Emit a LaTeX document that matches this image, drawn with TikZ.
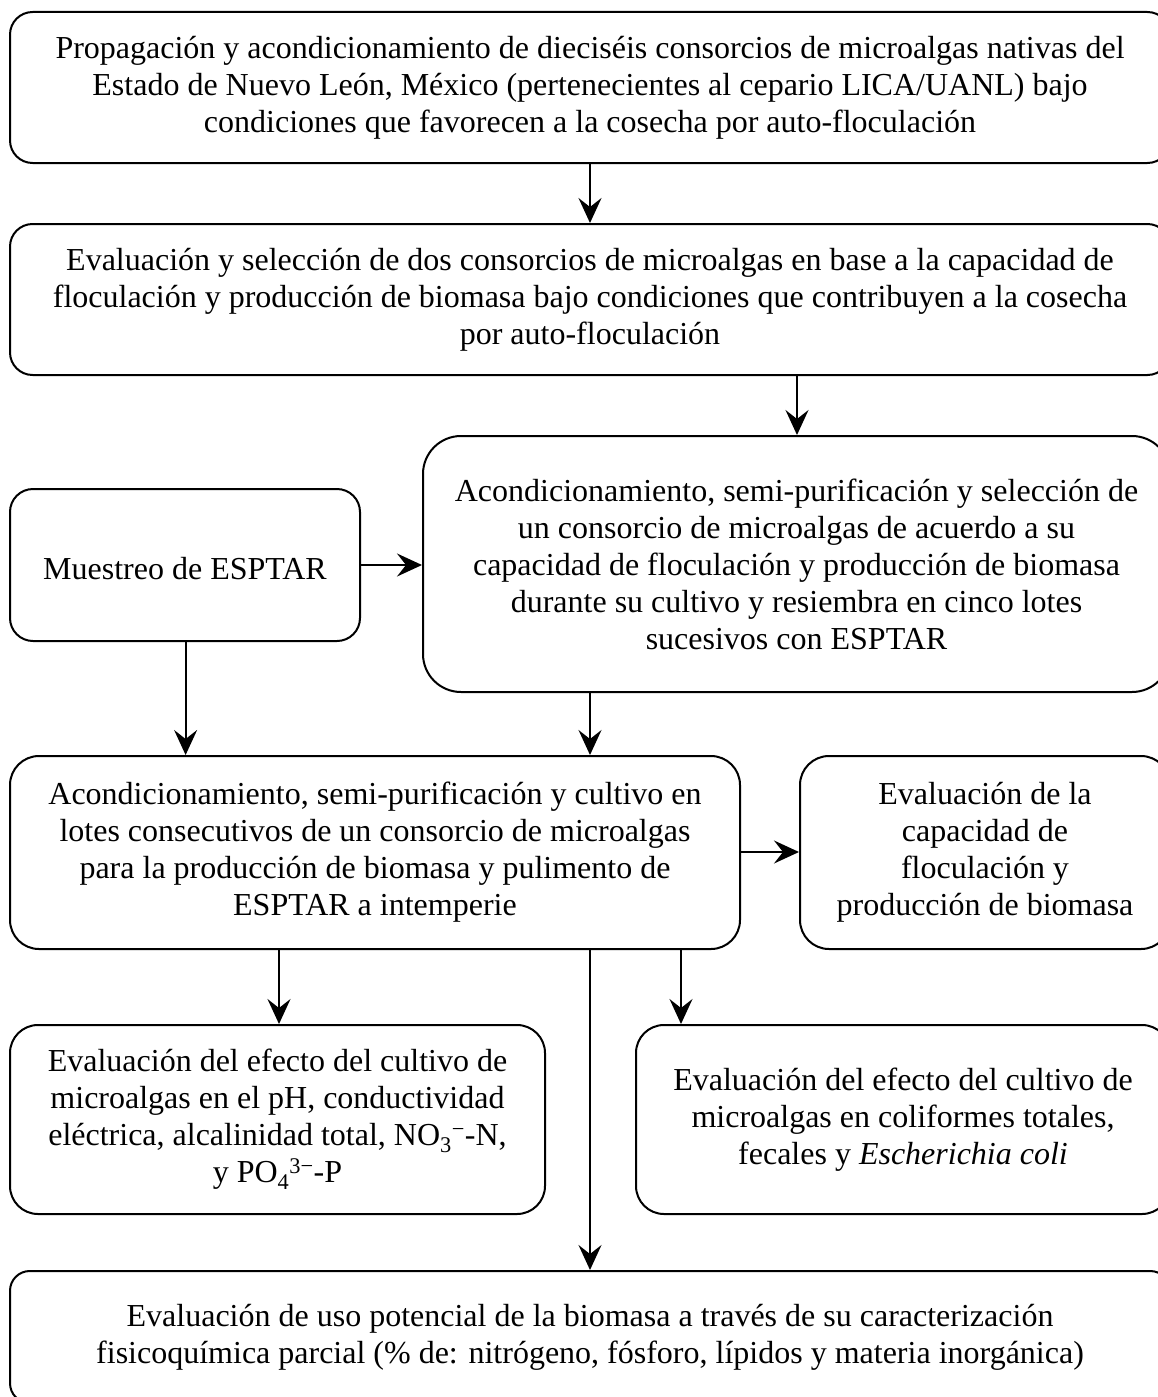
\documentclass[tikz,border=0pt]{standalone}
\usepackage{fontspec}
\setmainfont{Liberation Serif}
\usetikzlibrary{arrows.meta}
\begin{document}
\begin{tikzpicture}[x=1pt,y=-1pt,
  box/.style={draw=black,line width=2pt,rectangle,inner sep=0pt,align=center,
    font=\fontsize{32}{37}\selectfont,execute at begin node={\rule{0pt}{30pt}}},
  arr/.style={line width=2pt,-{Stealth[length=25pt,width=23pt,inset=9pt]}}]
\useasboundingbox[fill=white] (0,0) rectangle (1158,1397);
% boxes: centre, width, height, corner radius = 15% of min side
\node[box,minimum width=1160pt,minimum height=151pt,rounded corners=22.6pt] (B1) at (590,87.5)
 {Propagación y acondicionamiento de dieciséis consorcios de microalgas nativas del\\
  Estado de Nuevo León, México (pertenecientes al cepario LICA/UANL) bajo\\
  condiciones que favorecen a la cosecha por auto-floculación};
\node[box,minimum width=1160pt,minimum height=151pt,rounded corners=22.6pt] (B2) at (590,299.5)
 {Evaluación y selección de dos consorcios de microalgas en base a la capacidad de\\
  floculación y producción de biomasa bajo condiciones que contribuyen a la cosecha\\
  por auto-floculación};
\node[box,minimum width=747pt,minimum height=256pt,rounded corners=38pt] (B3) at (796.5,564)
 {Acondicionamiento, semi-purificación y selección de\\
  un consorcio de microalgas de acuerdo a su\\
  capacidad de floculación y producción de biomasa\\
  durante su cultivo y resiembra en cinco lotes\\
  sucesivos con ESPTAR};
\node[box,minimum width=350pt,minimum height=152pt,rounded corners=23pt] (B0) at (185,565)
 {Muestreo de ESPTAR};
\node[box,minimum width=730pt,minimum height=193pt,rounded corners=29pt] (B4) at (375,852.5)
 {Acondicionamiento, semi-purificación y cultivo en\\
  lotes consecutivos de un consorcio de microalgas\\
  para la producción de biomasa y pulimento de\\
  ESPTAR a intemperie};
\node[box,minimum width=370pt,minimum height=193pt,rounded corners=29pt] (BE) at (985,852.5)
 {Evaluación de la\\capacidad de\\floculación y\\producción de biomasa};
\node[box,minimum width=535pt,minimum height=189pt,rounded corners=28pt] (B5) at (277.5,1119.5)
 {Evaluación del efecto del cultivo de\\
  microalgas en el pH, conductividad\\
  eléctrica, alcalinidad total, NO\textsubscript{3}\textsuperscript{−}-N,\\
  y PO\textsubscript{4}\textsuperscript{3−}-P};
\node[box,minimum width=534pt,minimum height=189pt,rounded corners=28pt] (B6) at (903,1119.5)
 {Evaluación del efecto del cultivo de\\
  microalgas en coliformes totales,\\
  fecales y \textit{Escherichia coli}};
\node[box,minimum width=1160pt,minimum height=132pt,rounded corners=19.8pt] (B7) at (590,1337)
 {Evaluación de uso potencial de la biomasa a través de su caracterización\\
  fisicoquímica parcial (\% de: nitrógeno, fósforo, lípidos y materia inorgánica)};
% connector guide coordinates
\coordinate (xa) at (590,0);
\coordinate (xb) at (797,0);
\coordinate (xc) at (185.6,0);
\coordinate (xd) at (279,0);
\coordinate (xe) at (681,0);
\coordinate (ya) at (0,565);
\coordinate (yb) at (0,852);
\draw[arr] (B1.south -| xa) -- (B2.north -| xa);
\draw[arr] (B2.south -| xb) -- (B3.north -| xb);
\draw[arr] (B0.east |- ya) -- (B3.west |- ya);
\draw[arr] (B0.south -| xc) -- (B4.north -| xc);
\draw[arr] (B3.south -| xa) -- (B4.north -| xa);
\draw[arr] (B4.east |- yb) -- (BE.west |- yb);
\draw[arr] (B4.south -| xd) -- (B5.north -| xd);
\draw[arr] (B4.south -| xe) -- (B6.north -| xe);
\draw[arr] (B4.south -| xa) -- (B7.north -| xa);
\end{tikzpicture}
\end{document}
